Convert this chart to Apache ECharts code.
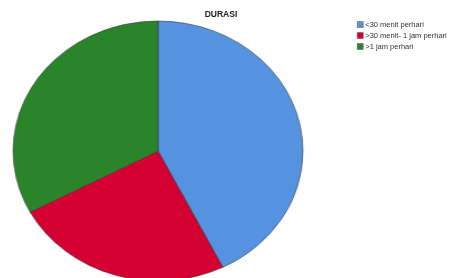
<!DOCTYPE html>
<html>
<head>
	<meta charset="UTF-8">
	<title>DURASI</title>
	<script src="https://cdn.jsdelivr.net/npm/echarts@6/dist/echarts.min.js"></script>
	<style>
		body { margin: 0; background: #fff; }
		.wrap { position: relative; width: 453px; height: 278px; overflow: hidden; }
		.layer { position: absolute; left: 0; top: 0; width: 453px; height: 278px; }
		/* SPSS pie is slightly wider than tall */
		#pie { transform-origin: 158px 151px; transform: scaleX(1.115); }
	</style>
</head>
<body>
	<div class="wrap">
		<div id="pie" class="layer"></div>
		<div id="labels" class="layer"></div>
	</div>
	<script>
		var categories = ['<30 menit perhari', '>30 menit- 1 jam perhari', '>1 jam perhari'];
		var counts = [26, 15, 20];
		var colors = ['#5593E0', '#D40032', '#2A8429'];

		var pieData = [];
		for (var i = 0; i < categories.length; i++) {
			pieData.push({ name: categories[i], value: counts[i], itemStyle: { color: colors[i] } });
		}

		var pie = echarts.init(document.getElementById('pie'), null, { renderer: 'canvas' });
		pie.setOption({
			animation: false,
			series: [{
				type: 'pie',
				center: [158, 151],
				radius: 130,
				startAngle: 90,
				clockwise: true,
				label: { show: false },
				labelLine: { show: false },
				emphasis: { disabled: true },
				itemStyle: { borderColor: '#3a3a3a', borderWidth: 0.6 },
				data: pieData
			}]
		});

		// title + legend on a second, unscaled layer
		var labels = echarts.init(document.getElementById('labels'), null, { renderer: 'canvas' });
		labels.setOption({
			animation: false,
			title: {
				text: 'DURASI',
				left: 221,
				top: 10,
				padding: 0,
				textAlign: 'center',
				textStyle: { fontSize: 8.5, fontWeight: 'bold', color: '#222', fontFamily: 'Liberation Sans' }
			},
			legend: {
				orient: 'vertical',
				left: 357,
				top: 20.5,
				padding: 0,
				itemWidth: 6,
				itemHeight: 6,
				itemGap: 3,
				icon: 'rect',
				selectedMode: false,
				itemStyle: { borderColor: '#555', borderWidth: 0.5, opacity: 1 },
				textStyle: { fontSize: 7.5, lineHeight: 6, color: '#333', padding: [0, 0, 0, -3], fontFamily: 'Liberation Sans' },
				data: categories
			},
			series: [{
				type: 'pie',
				radius: 0,
				silent: true,
				label: { show: false },
				labelLine: { show: false },
				data: pieData
			}]
		});
	</script>
</body>
</html>
